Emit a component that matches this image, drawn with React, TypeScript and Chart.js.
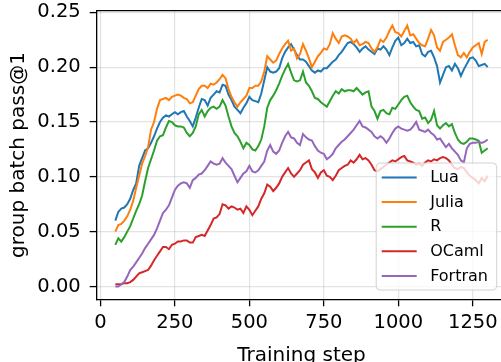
import React, { useEffect, useRef } from "react";
import { Chart, registerables } from "chart.js";

Chart.register(...registerables);

// ---- data ----
const steps = [
  50, 60, 70, 80, 90, 100, 110, 120, 130, 140,
  150, 160, 170, 180, 190, 200, 210, 220, 230, 240,
  250, 260, 270, 280, 290, 300, 310, 320, 330, 340,
  350, 360, 370, 380, 390, 400, 410, 420, 430, 440,
  450, 460, 470, 480, 490, 500, 510, 520, 530, 540,
  550, 560, 570, 580, 590, 600, 610, 620, 630, 640,
  650, 660, 670, 680, 690, 700, 710, 720, 730, 740,
  750, 760, 770, 780, 790, 800, 810, 820, 830, 840,
  850, 860, 870, 880, 890, 900, 910, 920, 930, 940,
  950, 960, 970, 980, 990, 1000, 1010, 1020, 1030, 1040,
  1050, 1060, 1070, 1080, 1090, 1100, 1110, 1120, 1130, 1140,
  1150, 1160, 1170, 1180, 1190, 1200, 1210, 1220, 1230, 1240,
  1250, 1260, 1270, 1280, 1290, 1300,
];

const lua = [
  0.060, 0.068, 0.071, 0.072, 0.075, 0.080, 0.088, 0.094, 0.110, 0.117,
  0.124, 0.126, 0.131, 0.137, 0.144, 0.150, 0.154, 0.156, 0.155, 0.157,
  0.159, 0.157, 0.159, 0.160, 0.155, 0.151, 0.146, 0.154, 0.163, 0.171,
  0.170, 0.165, 0.172, 0.175, 0.178, 0.177, 0.184, 0.183, 0.175, 0.170,
  0.164, 0.161, 0.158, 0.163, 0.167, 0.173, 0.170, 0.169, 0.168, 0.176,
  0.188, 0.200, 0.196, 0.195, 0.196, 0.199, 0.208, 0.214, 0.218, 0.221,
  0.216, 0.211, 0.207, 0.207, 0.205, 0.201, 0.197, 0.195, 0.197, 0.196,
  0.199, 0.199, 0.202, 0.205, 0.207, 0.211, 0.214, 0.218, 0.222, 0.223,
  0.221, 0.218, 0.214, 0.217, 0.219, 0.216, 0.214, 0.212, 0.217, 0.216,
  0.219, 0.216, 0.211, 0.218, 0.224, 0.227, 0.220, 0.222, 0.226, 0.222,
  0.223, 0.219, 0.220, 0.212, 0.210, 0.214, 0.215, 0.209, 0.201, 0.186,
  0.193, 0.200, 0.201, 0.197, 0.203, 0.199, 0.192, 0.198, 0.203, 0.208,
  0.209, 0.206, 0.201, 0.202, 0.203, 0.200,
];

const julia = [
  0.050, 0.056, 0.057, 0.060, 0.064, 0.070, 0.078, 0.090, 0.101, 0.112,
  0.119, 0.127, 0.143, 0.150, 0.162, 0.170, 0.171, 0.172, 0.170, 0.173,
  0.174, 0.175, 0.174, 0.172, 0.171, 0.167, 0.168, 0.174, 0.180, 0.183,
  0.183, 0.181, 0.185, 0.184, 0.186, 0.189, 0.193, 0.190, 0.180, 0.173,
  0.168, 0.164, 0.168, 0.171, 0.174, 0.181, 0.181, 0.183, 0.183, 0.187,
  0.196, 0.210, 0.207, 0.204, 0.206, 0.212, 0.217, 0.221, 0.224, 0.215,
  0.217, 0.208, 0.212, 0.221, 0.215, 0.208, 0.200, 0.205, 0.210, 0.213,
  0.217, 0.216, 0.221, 0.231, 0.226, 0.222, 0.228, 0.229, 0.228, 0.226,
  0.222, 0.225, 0.220, 0.221, 0.223, 0.222, 0.217, 0.214, 0.218, 0.225,
  0.223, 0.227, 0.233, 0.238, 0.232, 0.231, 0.228, 0.233, 0.238, 0.229,
  0.230, 0.226, 0.222, 0.220, 0.219, 0.226, 0.234, 0.229, 0.218, 0.215,
  0.223, 0.225, 0.227, 0.230, 0.220, 0.211, 0.209, 0.213, 0.209, 0.214,
  0.218, 0.220, 0.222, 0.212, 0.223, 0.225,
];

const rLang = [
  0.038, 0.044, 0.041, 0.045, 0.050, 0.055, 0.062, 0.069, 0.075, 0.083,
  0.096, 0.108, 0.116, 0.124, 0.133, 0.137, 0.138, 0.145, 0.151, 0.150,
  0.147, 0.146, 0.146, 0.145, 0.140, 0.137, 0.140, 0.146, 0.157, 0.161,
  0.155, 0.160, 0.163, 0.164, 0.162, 0.164, 0.170, 0.165, 0.155, 0.146,
  0.140, 0.137, 0.132, 0.126, 0.131, 0.129, 0.125, 0.124, 0.128, 0.134,
  0.146, 0.163, 0.170, 0.174, 0.179, 0.185, 0.192, 0.198, 0.203, 0.195,
  0.188, 0.187, 0.188, 0.196, 0.186, 0.183, 0.178, 0.172, 0.171, 0.168,
  0.166, 0.164, 0.169, 0.174, 0.178, 0.176, 0.180, 0.178, 0.179, 0.179,
  0.178, 0.181, 0.178, 0.175, 0.177, 0.178, 0.164, 0.160, 0.153, 0.160,
  0.161, 0.158, 0.157, 0.163, 0.162, 0.166, 0.170, 0.173, 0.174, 0.168,
  0.164, 0.161, 0.160, 0.153, 0.154, 0.149, 0.152, 0.160, 0.147, 0.144,
  0.147, 0.149, 0.146, 0.148, 0.140, 0.134, 0.131, 0.130, 0.132, 0.135,
  0.135, 0.134, 0.133, 0.122, 0.124, 0.126,
];

const ocaml = [
  0.002, 0.002, 0.002, 0.003, 0.003, 0.004, 0.006, 0.009, 0.012, 0.013,
  0.014, 0.015, 0.019, 0.024, 0.028, 0.032, 0.036, 0.036, 0.034, 0.038,
  0.039, 0.041, 0.041, 0.042, 0.042, 0.040, 0.040, 0.045, 0.046, 0.047,
  0.046, 0.051, 0.056, 0.062, 0.063, 0.066, 0.075, 0.074, 0.071, 0.073,
  0.072, 0.070, 0.071, 0.067, 0.073, 0.070, 0.065, 0.069, 0.073, 0.080,
  0.085, 0.093, 0.091, 0.087, 0.090, 0.094, 0.100, 0.104, 0.108, 0.103,
  0.100, 0.103, 0.106, 0.111, 0.113, 0.115, 0.107, 0.104, 0.099, 0.104,
  0.106, 0.101, 0.100, 0.097, 0.101, 0.106, 0.108, 0.110, 0.111, 0.115,
  0.113, 0.116, 0.120, 0.116, 0.117, 0.115, 0.111, 0.106, 0.105, 0.107,
  0.109, 0.111, 0.113, 0.115, 0.114, 0.116, 0.118, 0.119, 0.115, 0.114,
  0.113, 0.111, 0.112, 0.110, 0.113, 0.115, 0.114, 0.116, 0.115, 0.117,
  0.118, 0.117, 0.115, 0.111, 0.108, 0.107, 0.109, 0.108, 0.104, 0.101,
  0.099, 0.097, 0.094, 0.099, 0.096, 0.101,
];

const fortran = [
  0.000, 0.000, 0.002, 0.004, 0.009, 0.015, 0.018, 0.022, 0.026, 0.030,
  0.035, 0.039, 0.043, 0.047, 0.053, 0.060, 0.067, 0.070, 0.074, 0.081,
  0.088, 0.092, 0.094, 0.095, 0.094, 0.090, 0.097, 0.099, 0.102, 0.103,
  0.106, 0.110, 0.114, 0.112, 0.111, 0.112, 0.117, 0.113, 0.110, 0.107,
  0.101, 0.095, 0.099, 0.103, 0.105, 0.110, 0.105, 0.104, 0.106, 0.110,
  0.114, 0.124, 0.129, 0.123, 0.121, 0.124, 0.131, 0.137, 0.141, 0.136,
  0.135, 0.131, 0.129, 0.139, 0.136, 0.134, 0.133, 0.128, 0.124, 0.122,
  0.121, 0.116, 0.118, 0.121, 0.126, 0.129, 0.132, 0.134, 0.137, 0.140,
  0.143, 0.147, 0.151, 0.146, 0.145, 0.143, 0.141, 0.137, 0.135, 0.137,
  0.135, 0.131, 0.135, 0.140, 0.144, 0.146, 0.144, 0.143, 0.142, 0.143,
  0.146, 0.150, 0.143, 0.142, 0.141, 0.143, 0.140, 0.138, 0.134, 0.135,
  0.131, 0.127, 0.130, 0.126, 0.123, 0.120, 0.115, 0.113, 0.126, 0.130,
  0.131, 0.131, 0.132, 0.131, 0.132, 0.134,
];

const seriesNames = ["Lua", "Julia", "R", "OCaml", "Fortran"];
const seriesColors = ["#1f77b4", "#ff7f0e", "#2ca02c", "#d62728", "#9467bd"];
const xTickValues = [0, 250, 500, 750, 1000, 1250];
const yTickValues = [0, 0.05, 0.1, 0.15, 0.2, 0.25];
const xTitle = "Training step";
const yTitle = "group batch pass@1";

const FONT = "'DejaVu Sans', 'Liberation Sans', sans-serif";

const overlayPlugin = {
  id: "overlay",
  afterDraw(chart: any) {
    const { ctx, chartArea: a } = chart;
    ctx.save();
    // top and right spines
    ctx.strokeStyle = "#000";
    ctx.lineWidth = 1.3;
    ctx.beginPath();
    ctx.moveTo(a.left, a.top);
    ctx.lineTo(a.right, a.top);
    ctx.lineTo(a.right, a.bottom);
    ctx.stroke();

    // legend
    const bw = 120.5;
    const bh = 127;
    const bx = a.right - 9.6 - bw;
    const by = a.bottom - 9.3 - bh;
    const r = 4;
    ctx.beginPath();
    ctx.moveTo(bx + r, by);
    ctx.lineTo(bx + bw - r, by);
    ctx.arcTo(bx + bw, by, bx + bw, by + r, r);
    ctx.lineTo(bx + bw, by + bh - r);
    ctx.arcTo(bx + bw, by + bh, bx + bw - r, by + bh, r);
    ctx.lineTo(bx + r, by + bh);
    ctx.arcTo(bx, by + bh, bx, by + bh - r, r);
    ctx.lineTo(bx, by + r);
    ctx.arcTo(bx, by, bx + r, by, r);
    ctx.closePath();
    ctx.fillStyle = "rgba(255,255,255,0.8)";
    ctx.fill();
    ctx.strokeStyle = "rgba(204,204,204,0.9)";
    ctx.lineWidth = 1;
    ctx.stroke();

    ctx.font = `16px ${FONT}`;
    ctx.textBaseline = "middle";
    ctx.textAlign = "left";
    chart.data.datasets.forEach((ds: any, i: number) => {
      const y = by + 14.5 + i * 24.6;
      ctx.strokeStyle = ds.borderColor;
      ctx.lineWidth = 2;
      ctx.beginPath();
      ctx.moveTo(bx + 5.5, y);
      ctx.lineTo(bx + 40.5, y);
      ctx.stroke();
      ctx.fillStyle = "#000";
      ctx.fillText(ds.label, bx + 54, y + 0.5);
    });
    ctx.restore();
  },
};

export default function App() {
  const ref = useRef<HTMLCanvasElement>(null);

  useEffect(() => {
    if (!ref.current) return;
    const values = [lua, julia, rLang, ocaml, fortran];
    const chart = new Chart(ref.current, {
      type: "line",
      data: {
        datasets: values.map((vals, i) => ({
          label: seriesNames[i],
          data: steps.map((s, j) => ({ x: s, y: vals[j] })),
          borderColor: seriesColors[i],
          backgroundColor: seriesColors[i],
          borderWidth: 2,
          pointRadius: 0,
          tension: 0,
          fill: false,
          order: values.length - i,
        })),
      },
      options: {
        responsive: false,
        animation: false,
        devicePixelRatio: 1,
        layout: { padding: { left: 0, right: 23.7, top: 10.7, bottom: 0 } },
        plugins: {
          legend: { display: false },
          tooltip: { enabled: false },
        },
        scales: {
          x: {
            type: "linear",
            min: -12.5,
            max: 1362.5,
            afterBuildTicks: (scale: any) => {
              scale.ticks = xTickValues.map((v) => ({ value: v }));
            },
            afterFit: (scale: any) => {
              scale.height = 62.7;
              scale.paddingLeft = 0;
              scale.paddingRight = 0;
            },
            ticks: {
              autoSkip: false,
              maxRotation: 0,
              padding: 5,
              color: "#000",
              font: { family: FONT, size: 19.5 },
              callback: (v: any) => String(v),
            },
            grid: {
              color: "rgba(176,176,176,0.35)",
              lineWidth: 1.2,
              tickColor: "#000",
              tickLength: 7,
              tickWidth: 1.3,
            },
            border: { display: true, color: "#000", width: 1.3 },
            title: {
              display: true,
              text: xTitle,
              color: "#000",
              font: { family: FONT, size: 20 },
              padding: { top: 0, bottom: -6 },
            },
          },
          y: {
            type: "linear",
            min: -0.0117,
            max: 0.2515,
            afterBuildTicks: (scale: any) => {
              scale.ticks = yTickValues.map((v) => ({ value: v }));
            },
            afterFit: (scale: any) => {
              scale.width = 96.7;
              scale.paddingTop = 0;
              scale.paddingBottom = 0;
            },
            ticks: {
              autoSkip: false,
              padding: 9,
              color: "#000",
              font: { family: FONT, size: 19.5 },
              callback: (v: any) => Number(v).toFixed(2),
            },
            grid: {
              color: "rgba(176,176,176,0.35)",
              lineWidth: 1.2,
              tickColor: "#000",
              tickLength: 7,
              tickWidth: 1.3,
            },
            border: { display: true, color: "#000", width: 1.3 },
            title: {
              display: true,
              text: yTitle,
              color: "#000",
              font: { family: FONT, size: 20 },
              padding: { top: 7, bottom: 0 },
            },
          },
        },
      } as any,
      plugins: [overlayPlugin],
    });
    return () => chart.destroy();
  }, []);

  return (
    <div
      style={{
        position: "fixed",
        left: 0,
        top: 0,
        width: 501,
        height: 362,
        overflow: "hidden",
        background: "#fff",
      }}
    >
      <canvas
        ref={ref}
        width={530}
        height={362}
        style={{ display: "block", width: 530, height: 362 }}
      />
    </div>
  );
}
